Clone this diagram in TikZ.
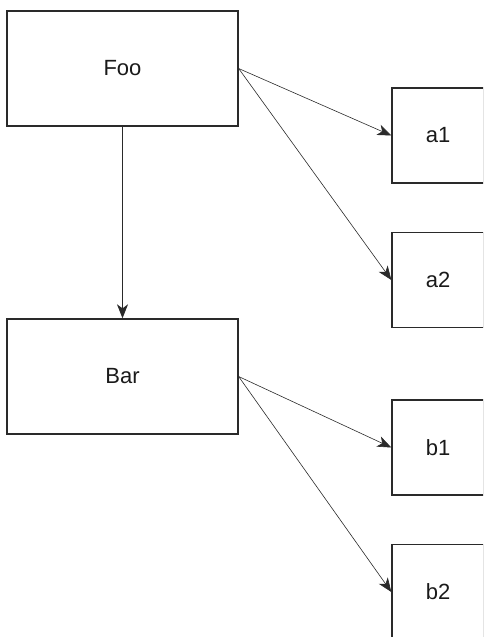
\documentclass[tikz,border=0pt]{standalone}
\usepackage{fontspec}
\setmainfont{Liberation Sans}
\usetikzlibrary{arrows.meta}
\definecolor{vline}{HTML}{2a2a2a}
\definecolor{vtext}{HTML}{1a1a1a}

\tikzset{
	block/.style = {draw = vline, line width = 1.3pt, fill = white, text = vtext,
		font = \fontsize{22}{26}\selectfont},
	big/.style = {block, minimum width = 231pt, minimum height = 115pt},
	small/.style = {block, minimum width = 92pt, minimum height = 95pt},
	link/.style = {draw = vline, line width = 0.6pt, -{Stealth[length=14pt,width=11pt,inset=4pt]}},
	down/.style = {link, line width = 1.2pt}
}

\begin{document}
\begin{tikzpicture}[x = 1pt, y = -1pt]
		\useasboundingbox (0,0) rectangle (483,637);
		\clip (0,0) rectangle (483,637);
		\node[big] (foo) at (122.5,68.5) {Foo};
		\node[big] (bar) at (122.5,376.5) {Bar};
		\node[small] (a1) at (438,135.5) {a1};
		\node[small] (a2) at (438,280) {a2};
		\node[small] (b1) at (438,447.5) {b1};
		\node[small] (b2) at (438,592) {b2};
		\draw[down] (foo) -- (bar);
		\draw[link] (foo.east) -- (a1.west);
		\draw[link] (foo.east) -- (a2.west);
		\draw[link] (bar.east) -- (b1.west);
		\draw[link] (bar.east) -- (b2.west);
	\end{tikzpicture}
\end{document}
